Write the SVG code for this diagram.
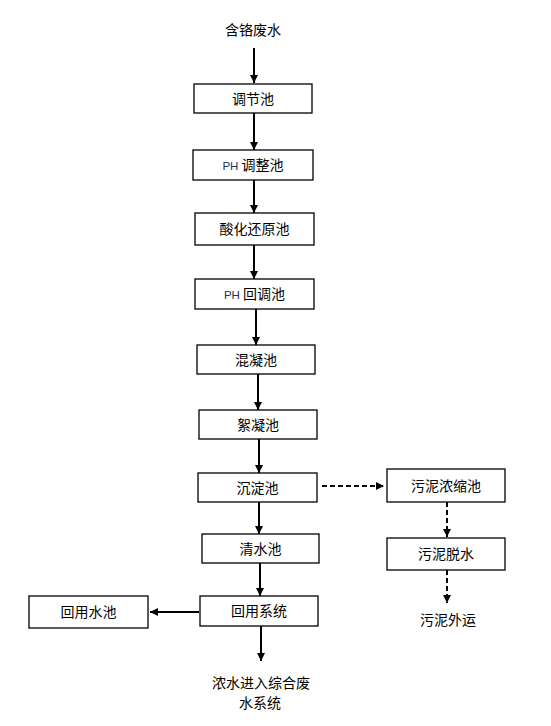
<svg xmlns="http://www.w3.org/2000/svg" width="551" height="726" viewBox="0 0 551 726">
<style>
.box{fill:#fff;stroke:#000;stroke-width:1.3}
.t{font-family:"Noto Sans CJK SC","Liberation Sans",sans-serif;font-size:14px;fill:#000;text-anchor:middle}
.ph{font-family:"Liberation Sans",sans-serif;font-size:11.5px;fill:#1f3050}
.ln{stroke:#000;stroke-width:2;fill:none}
.dl{stroke:#000;stroke-width:2;fill:none;stroke-dasharray:5 3}
</style>
<defs>
<marker id="ah" viewBox="0 0 10 10" refX="10" refY="5" markerWidth="8" markerHeight="8" markerUnits="userSpaceOnUse" orient="auto">
<path d="M0,0 L10,5 L0,10 Z" fill="#000"/>
</marker>
</defs>
<rect width="551" height="726" fill="#fff"/>
<g id="connectors">
<line class="ln" x1="254" y1="48" x2="254" y2="83" marker-end="url(#ah)"/>
<line class="ln" x1="254" y1="113" x2="254" y2="150" marker-end="url(#ah)"/>
<line class="ln" x1="254" y1="180" x2="254" y2="213" marker-end="url(#ah)"/>
<line class="ln" x1="254" y1="245" x2="254" y2="279" marker-end="url(#ah)"/>
<line class="ln" x1="256" y1="309" x2="256" y2="345" marker-end="url(#ah)"/>
<line class="ln" x1="258" y1="374" x2="258" y2="410" marker-end="url(#ah)"/>
<line class="ln" x1="259" y1="439" x2="259" y2="473" marker-end="url(#ah)"/>
<line class="ln" x1="259" y1="502" x2="259" y2="534" marker-end="url(#ah)"/>
<line class="ln" x1="260" y1="563" x2="260" y2="596" marker-end="url(#ah)"/>
<line class="ln" x1="261" y1="626" x2="261" y2="661" marker-end="url(#ah)"/>
<line class="ln" x1="199" y1="612" x2="150" y2="612" marker-end="url(#ah)"/>
<line class="dl" x1="322" y1="486" x2="384" y2="486" marker-end="url(#ah)"/>
<line class="dl" x1="447" y1="502" x2="447" y2="537" marker-end="url(#ah)"/>
<line class="dl" x1="447" y1="570" x2="447" y2="603" marker-end="url(#ah)"/>
</g>
<g id="n-source"><text class="t" x="253" y="35">含铬废水</text></g>
<g id="n1"><rect class="box" x="194" y="84" width="118" height="29"/><text class="t" x="253" y="103.5">调节池</text></g>
<g id="n2"><rect class="box" x="193" y="150" width="120" height="30"/><text class="t" x="253" y="170"><tspan class="ph">PH</tspan> 调整池</text></g>
<g id="n3"><rect class="box" x="195" y="213" width="119" height="32"/><text class="t" x="254.5" y="234">酸化还原池</text></g>
<g id="n4"><rect class="box" x="195" y="279" width="119" height="30"/><text class="t" x="254.5" y="299"><tspan class="ph">PH</tspan> 回调池</text></g>
<g id="n5"><rect class="box" x="197" y="345" width="118" height="29"/><text class="t" x="256" y="364.5">混凝池</text></g>
<g id="n6"><rect class="box" x="199" y="410" width="118" height="29"/><text class="t" x="258" y="429.5">絮凝池</text></g>
<g id="n7"><rect class="box" x="198" y="473" width="119" height="29"/><text class="t" x="257.5" y="492.5">沉淀池</text></g>
<g id="n8"><rect class="box" x="202" y="534" width="117" height="29"/><text class="t" x="260.5" y="553.5">清水池</text></g>
<g id="n9"><rect class="box" x="200" y="596" width="118" height="30"/><text class="t" x="259" y="616">回用系统</text></g>
<g id="n10"><rect class="box" x="29" y="596" width="119" height="32"/><text class="t" x="88.5" y="617">回用水池</text></g>
<g id="n11"><rect class="box" x="387" y="469" width="118" height="33"/><text class="t" x="446" y="490.5">污泥浓缩池</text></g>
<g id="n12"><rect class="box" x="387" y="538" width="118" height="32"/><text class="t" x="446" y="559">污泥脱水</text></g>
<g id="n-out1"><text class="t" x="448" y="625">污泥外运</text></g>
<g id="n-out2"><text class="t" x="261" y="688">浓水进入综合废</text><text class="t" x="260" y="708">水系统</text></g>
</svg>
